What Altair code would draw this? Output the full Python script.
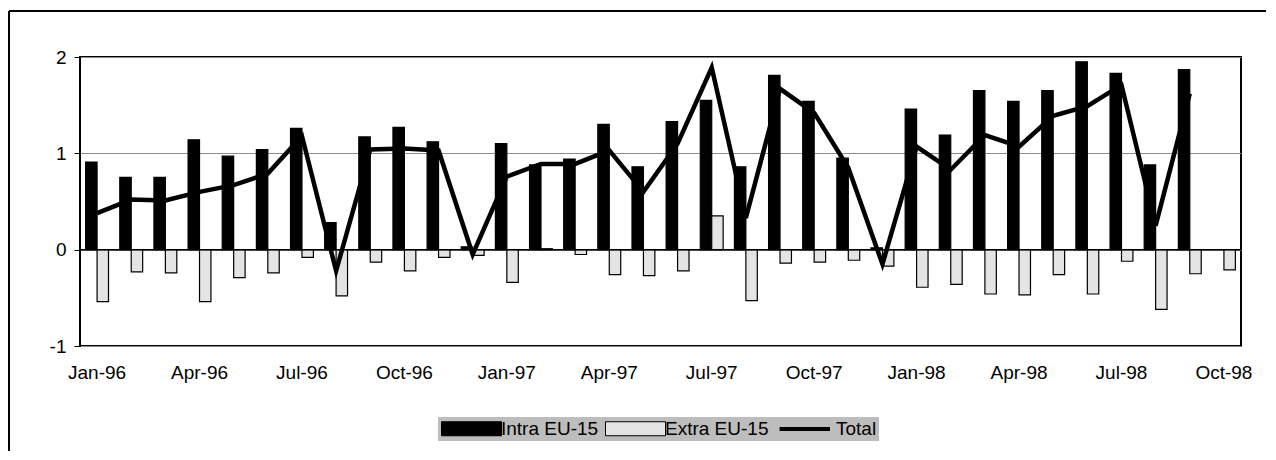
import altair as alt
import pandas as pd

months = ["Jan-96", "Feb-96", "Mar-96", "Apr-96", "May-96", "Jun-96", "Jul-96", "Aug-96",
          "Sep-96", "Oct-96", "Nov-96", "Dec-96",
          "Jan-97", "Feb-97", "Mar-97", "Apr-97", "May-97", "Jun-97", "Jul-97", "Aug-97",
          "Sep-97", "Oct-97", "Nov-97", "Dec-97",
          "Jan-98", "Feb-98", "Mar-98", "Apr-98", "May-98", "Jun-98", "Jul-98", "Aug-98",
          "Sep-98", "Oct-98"]

intra = [0.91, 0.75, 0.75, 1.14, 0.97, 1.04, 1.26, 0.28, 1.17, 1.27, 1.12, 0.03,
         1.10, 0.88, 0.94, 1.30, 0.86, 1.33, 1.55, 0.86, 1.81, 1.54, 0.95, 0.02,
         1.46, 1.19, 1.65, 1.54, 1.65, 1.95, 1.83, 0.88, 1.87, None]

extra = [-0.54, -0.23, -0.24, -0.54, -0.29, -0.24, -0.08, -0.48, -0.13, -0.22, -0.08, -0.06,
         -0.34, 0.01, -0.05, -0.26, -0.27, -0.22, 0.35, -0.53, -0.14, -0.13, -0.11, -0.17,
         -0.39, -0.36, -0.46, -0.47, -0.26, -0.46, -0.12, -0.62, -0.25, -0.21]

total = [0.38, 0.52, 0.51, 0.60, 0.67, 0.79, 1.18, -0.22, 1.04, 1.05, 1.03, -0.05,
         0.76, 0.89, 0.89, 1.03, 0.60, 1.10, 1.89, 0.33, 1.67, 1.42, 0.85, -0.15,
         1.07, 0.83, 1.19, 1.07, 1.39, 1.49, 1.71, 0.25, 1.62, None]

tick_labels = ["Jan-96", "Apr-96", "Jul-96", "Oct-96", "Jan-97", "Apr-97", "Jul-97",
               "Oct-97", "Jan-98", "Apr-98", "Jul-98", "Oct-98"]

bar_series = ["Intra EU-15", "Extra EU-15"]
bar_colors = ["#000000", "#e4e4e4"]
line_series = ["Total"]
line_colors = ["#000000"]

FONT = "Liberation Sans, Arial, Helvetica, sans-serif"
LEG_BG = "#bdbdbd"

rows = []
for m, a, b in zip(months, intra, extra):
    if a is not None:
        rows.append({"month": m, "series": "Intra EU-15", "value": a})
    if b is not None:
        rows.append({"month": m, "series": "Extra EU-15", "value": b})
bars_df = pd.DataFrame(rows)
line_df = pd.DataFrame([{"month": m, "series": "Total", "value": t}
                        for m, t in zip(months, total) if t is not None])

x_enc = alt.X("month:N", sort=months,
              scale=alt.Scale(domain=months, paddingInner=0.33, paddingOuter=0.165),
              axis=alt.Axis(title=None, values=tick_labels, labelAngle=0, ticks=False,
                            domain=False, labelPadding=17, labelFont=FONT,
                            labelFontSize=19, labelColor="black"))
y_enc = alt.Y("value:Q", scale=alt.Scale(domain=[-1, 2], nice=False),
              axis=alt.Axis(title=None, values=[-1, 0, 1, 2], labelExpr="'' + datum.value",
                            grid=True, gridColor="#8c8c8c", gridWidth=1, tickColor="black",
                            tickSize=6, labelPadding=8, domainColor="black",
                            labelFont=FONT, labelFontSize=19, labelColor="black"))

bar_legend = alt.Legend(
    title=None, orient="none", legendX=358, legendY=360, direction="horizontal",
    symbolType="M-1,-0.875H6.5V0.875H-1Z", symbolSize=256, labelOffset=42,
    columnPadding=4, padding=2, fillColor=LEG_BG,
    symbolStrokeColor="black", symbolStrokeWidth=1, symbolOpacity=1,
    labelFont=FONT, labelFontSize=19, labelColor="black", labelLimit=400,
)
line_legend = alt.Legend(
    title=None, orient="none", legendX=690, legendY=360, direction="horizontal",
    symbolType="M-0.3,0H6", symbolSize=256, labelOffset=44,
    padding=2, fillColor=LEG_BG, symbolStrokeWidth=4, symbolOpacity=1,
    labelFont=FONT, labelFontSize=19, labelColor="black", labelLimit=400,
)

frame_top = alt.Chart(pd.DataFrame({"k": [0]})).mark_rule(
    color="black", strokeWidth=2
).encode(x=alt.value(-71), x2=alt.value(1186), y=alt.value(-46))
frame_left = alt.Chart(pd.DataFrame({"k": [0]})).mark_rule(
    color="black", strokeWidth=2
).encode(x=alt.value(-71), y=alt.value(-46), y2=alt.value(394))

bars = alt.Chart(bars_df).mark_bar(stroke="black", strokeWidth=1.2).encode(
    x=x_enc,
    xOffset=alt.XOffset("series:N", sort=bar_series,
                        scale=alt.Scale(domain=bar_series, paddingInner=0, paddingOuter=0)),
    y=y_enc,
    fill=alt.Fill("series:N", scale=alt.Scale(domain=bar_series, range=bar_colors),
                  legend=bar_legend),
)

zero = alt.Chart(pd.DataFrame({"value": [0]})).mark_rule(
    color="black", strokeWidth=1.5
).encode(y="value:Q")

line = alt.Chart(line_df).mark_line(strokeWidth=4.5, strokeJoin="miter").encode(
    x=alt.X("month:N", sort=months),
    y="value:Q",
    stroke=alt.Stroke("series:N", scale=alt.Scale(domain=line_series, range=line_colors),
                      legend=line_legend),
)

chart = alt.layer(frame_top, frame_left, bars, zero, line).properties(
    width=1161, height=289,
    padding={"left": 0, "top": 2, "right": 0, "bottom": 0},
    background="white",
).configure_view(stroke="black", strokeWidth=2)

chart.save("out.html", embed_options={"renderer": "svg", "actions": False})
